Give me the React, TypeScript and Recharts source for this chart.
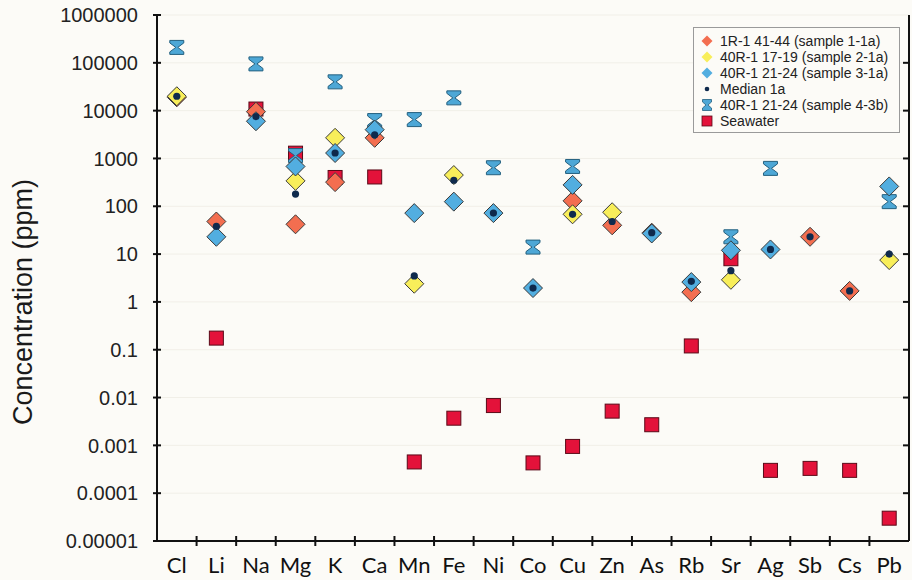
import React from "react";
import { ComposedChart, Scatter, XAxis, YAxis, CartesianGrid, Legend } from "recharts";

const elements = ["Cl", "Li", "Na", "Mg", "K", "Ca", "Mn", "Fe", "Ni", "Co", "Cu", "Zn", "As", "Rb", "Sr", "Ag", "Sb", "Cs", "Pb"];

// 1R-1 41-44 (sample 1-1a)
const sample1a = [19000, 48, 9500, 42, 320, 2700, null, null, null, null, 130, 40, 28, 1.6, null, null, 23, 1.7, null];
// 40R-1 17-19 (sample 2-1a)
const sample2a = [20000, null, null, 340, 2700, null, 2.4, 450, null, null, 68, 75, null, null, 2.9, null, null, null, 7.5];
// 40R-1 21-24 (sample 3-1a)
const sample3a = [null, 23, 6000, 680, 1300, 4000, 72, 125, 72, 1.95, 280, null, 27, 2.6, 12, 12.5, null, null, 260];
const median1a = [20000, 38, 7500, 180, 1300, 3100, 3.5, 350, 72, 1.95, 68, 48, 28, 2.7, 4.5, 12.5, 23, 1.7, 10];
// 40R-1 21-24 (sample 4-3b)
const sample4b = [210000, null, 95000, 1150, 40000, 6200, 6500, 18500, 640, 14, 680, null, null, null, 23, 620, null, null, 125];
const seawater = [null, 0.175, 10800, 1290, 400, 410, 0.00045, 0.0037, 0.0068, 0.00043, 0.00095, 0.0052, 0.0027, 0.12, 8, 0.0003, 0.00033, 0.0003, 0.00003];

const yTicks = [0.00001, 0.0001, 0.001, 0.01, 0.1, 1, 10, 100, 1000, 10000, 100000, 1000000];
const yTickLabels = ["0.00001", "0.0001", "0.001", "0.01", "0.1", "1", "10", "100", "1000", "10000", "100000", "1000000"];

const data = elements.map((el, i) => ({
  el,
  s1: sample1a[i],
  s2: sample2a[i],
  s3: sample3a[i],
  med: median1a[i],
  s4: sample4b[i],
  sw: seawater[i],
}));

const ORANGE = "#F36E50";
const YELLOW = "#F8EE5A";
const BLUE = "#52AEE0";
const NAVY = "#0F2A4D";
const HG_FILL = "#4DA7D6";
const HG_STROKE = "#24607F";
const RED = "#E3123A";

// half a category step, so the points sit in the middle of each slot
const HALF_BAND = 752 / 19 / 2;

const ok = (p: any, key: string) =>
  p.payload && p.payload[key] != null && Number.isFinite(p.cx) && Number.isFinite(p.cy);

const diamondPath = (cx: number, cy: number, r: number) =>
  `M${cx},${cy - r}L${cx + r},${cy}L${cx},${cy + r}L${cx - r},${cy}Z`;

const hourglassPath = (cx: number, cy: number, w: number, h: number) =>
  `M${cx - w},${cy - h}H${cx + w}V${cy - h + 2.5}L${cx + 1},${cy}L${cx + w},${cy + h - 2.5}V${cy + h}H${cx - w}V${cy + h - 2.5}L${cx - 1},${cy}L${cx - w},${cy - h + 2.5}Z`;

const diamondShape = (key: string, fill: string) => (p: any) =>
  ok(p, key) ? <path d={diamondPath(p.cx, p.cy, 9.5)} fill={fill} stroke="#3a3a3a" strokeWidth={1} /> : <g />;

const medianShape = (p: any) => (ok(p, "med") ? <circle cx={p.cx} cy={p.cy} r={3.6} fill={NAVY} /> : <g />);

const hourglassShape = (p: any) =>
  ok(p, "s4") ? <path d={hourglassPath(p.cx, p.cy, 7, 7)} fill={HG_FILL} stroke={HG_STROKE} strokeWidth={1} /> : <g />;

const squareShape = (p: any) =>
  ok(p, "sw") ? <rect x={p.cx - 7} y={p.cy - 7} width={14} height={14} fill={RED} stroke="#5A0A18" strokeWidth={1} /> : <g />;

const LeftTick = (props: any) => {
  const { x, y, payload } = props;
  const ax = x + 19;
  const i = yTicks.indexOf(payload.value);
  return (
    <g>
      <line x1={ax - 4} x2={ax + 4} y1={y} y2={y} stroke="#111" strokeWidth={2} />
      <text x={x} y={y} dy="0.36em" textAnchor="end" fill="#222" fontSize={20} fontFamily="'Liberation Sans', Arial, sans-serif">
        {i >= 0 ? yTickLabels[i] : payload.value}
      </text>
    </g>
  );
};

const RightTick = (props: any) => {
  const { x, y, index, visibleTicksCount } = props;
  if (index === visibleTicksCount - 1 || index === 0) return <g />;
  return <line x1={x - 6} x2={x} y1={y} y2={y} stroke="#111" strokeWidth={2} />;
};

const BottomTick = (props: any) => {
  const { x, y, payload, index, visibleTicksCount } = props;
  const ay = y - 10;
  const bx = x + HALF_BAND;
  return (
    <g>
      {index < visibleTicksCount - 1 && <line x1={bx} x2={bx} y1={ay - 5} y2={ay + 5} stroke="#111" strokeWidth={2} />}
      <text x={x} y={ay + 32} textAnchor="middle" fill="#111" fontSize={22} fontFamily="Lato, 'Open Sans', sans-serif">
        {payload.value}
      </text>
    </g>
  );
};

const TopTick = (props: any) => {
  const { x, y, index, visibleTicksCount } = props;
  const bx = x + HALF_BAND;
  if (index >= visibleTicksCount - 1) return <g />;
  return <line x1={bx} x2={bx} y1={y} y2={y + 6} stroke="#111" strokeWidth={2} />;
};

const legendItems = [
  { name: "1R-1 41-44 (sample 1-1a)", kind: "diamond", color: ORANGE },
  { name: "40R-1 17-19 (sample 2-1a)", kind: "diamond", color: YELLOW },
  { name: "40R-1 21-24 (sample 3-1a)", kind: "diamond", color: BLUE },
  { name: "Median 1a", kind: "dot", color: NAVY },
  { name: "40R-1 21-24 (sample 4-3b)", kind: "hourglass", color: HG_FILL },
  { name: "Seawater", kind: "square", color: RED },
];

const LegendIcon = ({ kind, color }: { kind: string; color: string }) => (
  <svg width={14} height={14} style={{ marginRight: 6, flexShrink: 0 }}>
    {kind === "diamond" && <path d={diamondPath(7, 7, 5.5)} fill={color} />}
    {kind === "dot" && <circle cx={7} cy={7} r={2.3} fill={color} />}
    {kind === "hourglass" && <path d={hourglassPath(7, 7, 4.5, 5.5)} fill={color} stroke={HG_STROKE} strokeWidth={0.8} />}
    {kind === "square" && <rect x={2} y={2} width={10} height={10} fill={color} stroke="#5A0A18" strokeWidth={0.8} />}
  </svg>
);

const LegendBox = () => (
  <div
    style={{
      border: "1px solid #9a9a9a",
      background: "#FCFBF7",
      padding: "5px 6px 3px 6px",
      width: 193,
      fontFamily: "'Liberation Sans', Arial, sans-serif",
      fontSize: 14,
      color: "#222",
      whiteSpace: "nowrap",
    }}
  >
    {legendItems.map((it) => (
      <div key={it.name} style={{ display: "flex", alignItems: "center", height: 16 }}>
        <LegendIcon kind={it.kind} color={it.color} />
        <span>{it.name}</span>
      </div>
    ))}
  </div>
);

export default function App() {
  return (
    <div style={{ position: "absolute", left: 0, top: 0, width: 912, height: 580, background: "#FCFBF7" }}>
      <ComposedChart width={912} height={580} data={data} margin={{ top: 15, right: 0, bottom: 9, left: 0 }}>
        <CartesianGrid vertical={false} stroke="#F1EFE8" />
        <XAxis
          dataKey="el"
          interval={0}
          height={30}
          padding={{ left: HALF_BAND, right: HALF_BAND }}
          tickSize={0}
          tickMargin={10}
          tickLine={false}
          axisLine={{ stroke: "#111", strokeWidth: 2 }}
          tick={<BottomTick />}
        />
        <XAxis
          xAxisId="top"
          dataKey="el"
          orientation="top"
          interval={0}
          height={0}
          padding={{ left: HALF_BAND, right: HALF_BAND }}
          tickSize={0}
          tickMargin={0}
          tickLine={false}
          axisLine={{ stroke: "#111", strokeWidth: 2 }}
          tick={<TopTick />}
        />
        <YAxis
          scale="log"
          domain={[0.00001, 1000000]}
          ticks={yTicks}
          allowDataOverflow
          interval={0}
          width={157}
          tickSize={0}
          tickMargin={19}
          tickLine={false}
          axisLine={{ stroke: "#111", strokeWidth: 2 }}
          tick={<LeftTick />}
          label={{
            value: "Concentration (ppm)",
            angle: -90,
            position: "center",
            dx: -56,
            dy: 24,
            style: { fontSize: 27, fill: "#1a1a1a", fontFamily: "'Liberation Sans', Arial, sans-serif" },
          }}
        />
        <YAxis
          yAxisId="right"
          orientation="right"
          scale="log"
          domain={[0.00001, 1000000]}
          ticks={yTicks}
          allowDataOverflow
          interval={0}
          width={3}
          tickSize={0}
          tickMargin={0}
          tickLine={false}
          axisLine={{ stroke: "#111", strokeWidth: 2 }}
          tick={<RightTick />}
        />
        <Legend
          layout="vertical"
          align="center"
          verticalAlign="middle"
          content={<LegendBox />}
          wrapperStyle={{ position: "absolute", left: 693, top: 27, width: 207 }}
        />
        <Scatter name="Seawater" dataKey="sw" shape={squareShape} isAnimationActive={false} />
        <Scatter name="40R-1 21-24 (sample 4-3b)" dataKey="s4" shape={hourglassShape} isAnimationActive={false} />
        <Scatter name="1R-1 41-44 (sample 1-1a)" dataKey="s1" shape={diamondShape("s1", ORANGE)} isAnimationActive={false} />
        <Scatter name="40R-1 17-19 (sample 2-1a)" dataKey="s2" shape={diamondShape("s2", YELLOW)} isAnimationActive={false} />
        <Scatter name="40R-1 21-24 (sample 3-1a)" dataKey="s3" shape={diamondShape("s3", BLUE)} isAnimationActive={false} />
        <Scatter name="Median 1a" dataKey="med" shape={medianShape} isAnimationActive={false} />
      </ComposedChart>
    </div>
  );
}
